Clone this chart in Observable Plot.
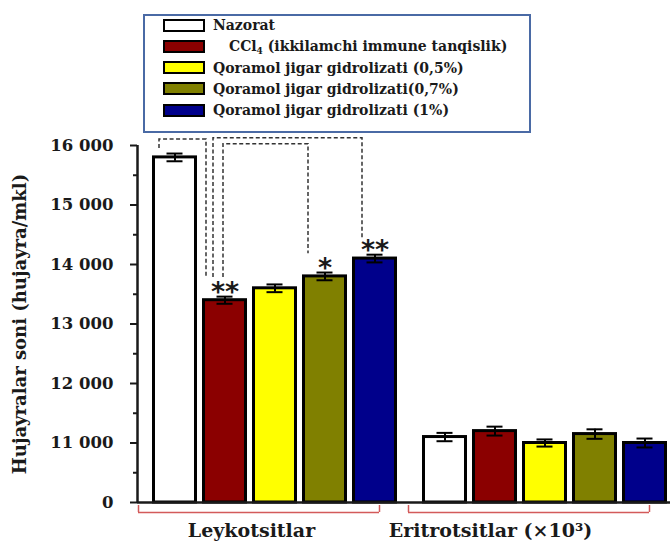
<!DOCTYPE html>
<html><head><meta charset="utf-8">
<script src="https://cdn.jsdelivr.net/npm/d3@7"></script>
<script src="https://cdn.jsdelivr.net/npm/@observablehq/plot@0.6"></script>
<style>
body{margin:0;background:#fff;}
#wrap{position:relative;width:670px;height:542px;overflow:hidden;}
#legend{position:absolute;left:143px;top:14px;width:388px;height:119px;box-sizing:border-box;border:2px solid #4a6aa5;background:#fff;font-family:"DejaVu Serif";font-weight:bold;font-size:14px;color:#1a1a1a;}
.row{position:absolute;left:18px;height:14px;display:flex;align-items:center;white-space:nowrap;}
.sw{width:38px;height:9px;border:2px solid #000;margin-right:8px;flex:none;}
.row sub{font-size:9px;vertical-align:-3px;line-height:0;}
</style></head><body><div id="wrap"><div id="chart"></div><div id="legend"></div></div>
<script>
const groups = ["Leykotsitlar", "Eritrotsitlar (×10³)"];
const series = ["Nazorat", "CCl4", "0,5%", "0,7%", "1%"];
const seriesLabels = ["Nazorat", "CCl<sub>4</sub> (ikkilamchi immune tanqislik)", "Qoramol jigar gidrolizati (0,5%)", "Qoramol jigar gidrolizati(0,7%)", "Qoramol jigar gidrolizati (1%)"];
const colors = ["#ffffff", "#8b0000", "#ffff00", "#808000", "#00008b"];
const leykValues = [15800, 13400, 13600, 13800, 14100];
const leykErrors = [65, 60, 65, 65, 65];
const eritValues = [11100, 11200, 11000, 11150, 11000];
const eritErrors = [70, 75, 60, 80, 75];
const yTicks = [10000, 11000, 12000, 13000, 14000, 15000, 16000];
const yTickLabels = ["0", "11 000", "12 000", "13 000", "14 000", "15 000", "16 000"];
const minorTicks = [10500, 11500, 12500, 13500, 14500, 15500];
const yTitle = "Hujayralar soni (hujayra/mkl)";
const stars = [
  {group: groups[0], series: "CCl4", text: "**"},
  {group: groups[0], series: "0,7%", text: "*"},
  {group: groups[0], series: "1%", text: "**"}
];
const brackets = [
  {from: "Nazorat", fromY: 15950, top: 16100, to: "CCl4", toY: 13780},
  {from: "CCl4", fromY: 13780, top: 16120, to: "1%", toY: 14450},
  {from: "CCl4", fromY: 13780, top: 16020, to: "0,7%", toY: 14180}
];
const bracketOffsets = [[-15.5, -18.5], [-11.5, -12.5], [-1.5, -16.5]];

const data = [];
groups.forEach((g, gi) => series.forEach((s, si) => data.push({
  group: g, series: s,
  value: gi === 0 ? leykValues[si] : eritValues[si],
  err: gi === 0 ? leykErrors[si] : eritErrors[si]
})));
const topOf = (g, s) => { const d = data.find(d => d.group === g && d.series === s); return d.value + d.err; };

const ink = "#1a1a1a";
const red = "#d35a5a";

const plot = Plot.plot({
  width: 670, height: 542,
  marginLeft: 137, marginRight: 3, marginTop: 145, marginBottom: 40,
  style: {fontFamily: "DejaVu Serif", fontWeight: "bold", color: ink, background: "transparent", overflow: "visible"},
  fx: {domain: groups, paddingInner: 10 / 270, paddingOuter: 0, axis: null, label: null},
  x: {domain: series, paddingInner: 0.1, paddingOuter: 0.15, align: 1, axis: null},
  y: {domain: [yTicks[0], yTicks[yTicks.length - 1]], axis: null},
  color: {domain: series, range: colors},
  marks: [
    Plot.barY(data, {fx: "group", x: "series", y1: yTicks[0], y2: "value", fill: "series", stroke: "#000", strokeWidth: 3, insetLeft: 1.5, insetRight: 1.5}),
    Plot.ruleX(data, {fx: "group", x: "series", y1: d => d.value - d.err, y2: d => d.value + d.err, stroke: "#000", strokeWidth: 2}),
    Plot.tickY(data, {fx: "group", x: "series", y: d => d.value + d.err, stroke: "#000", strokeWidth: 2, insetLeft: 14.5, insetRight: 14.5}),
    Plot.tickY(data, {fx: "group", x: "series", y: d => d.value - d.err, stroke: "#000", strokeWidth: 2, insetLeft: 14.5, insetRight: 14.5}),
    Plot.axisY({ticks: minorTicks, tickSize: 4, tickFormat: () => "", label: null, strokeWidth: 2, stroke: ink}),
    Plot.axisY({ticks: yTicks, tickSize: 7, tickPadding: 17, tickFormat: d => yTickLabels[yTicks.indexOf(d)], label: null, strokeWidth: 2, stroke: ink, fontSize: 16.5, fill: ink}),
    Plot.ruleX([series[0]], {fx: () => groups[0], x: d => d, dx: -37.5, stroke: ink, strokeWidth: 2.5}),
    Plot.ruleY([yTicks[0]], {stroke: ink, strokeWidth: 2.5, insetRight: -10}),
    Plot.ruleY([yTicks[0]], {dy: 10, insetLeft: 1, insetRight: 18, stroke: red, strokeWidth: 1.5}),
    Plot.ruleX(groups, {fx: d => d, x: () => series[0], dx: -36.5, insetTop: 360, insetBottom: -10, stroke: red, strokeWidth: 1.5}),
    Plot.ruleX(groups, {fx: d => d, x: () => series[series.length - 1], dx: 4.5, insetTop: 360, insetBottom: -10, stroke: red, strokeWidth: 1.5}),
    Plot.text([groups[0]], {fx: d => d, text: d => d, frameAnchor: "bottom", lineAnchor: "top", dy: 20.5, dx: -16, fontSize: 19, fill: ink}),
    Plot.text([groups[1]], {fx: d => d, text: d => d, frameAnchor: "bottom", lineAnchor: "top", dy: 20.5, dx: -47, fontSize: 19, fill: ink}),
    Plot.text([yTitle], {fx: () => groups[0], text: d => d, frameAnchor: "left", textAnchor: "middle", rotate: -90, dx: -117, fontSize: 18, fill: ink}),
    Plot.text(stars, {fx: "group", x: "series", y: d => topOf(d.group, d.series), text: "text", dy: -4, fontFamily: "DejaVu Sans", fontWeight: "bold", fontSize: 27, fill: ink})
  ]
});

// significance brackets, positioned through the plot's own scales
const fxS = plot.scale("fx"), xS = plot.scale("x"), yS = plot.scale("y");
const cx = (g, s) => fxS.apply(g) + xS.apply(s) - xS.range[0] + xS.bandwidth / 2;
const bg = d3.select(plot).append("g").attr("fill", "none").attr("stroke", "#333").attr("stroke-width", 1.5).attr("stroke-dasharray", "4,2.5");
brackets.forEach((b, i) => {
  const [oL, oR] = bracketOffsets[i];
  const x1 = cx(groups[0], b.from) + oL, x2 = cx(groups[0], b.to) + oR;
  bg.append("path").attr("d", `M${x1},${yS.apply(b.fromY)}V${yS.apply(b.top)}H${x2}V${yS.apply(b.toY)}`);
});

document.getElementById("chart").appendChild(plot);

const legend = d3.select("#legend");
series.forEach((s, i) => {
  const row = legend.append("div").attr("class", "row").style("top", (2 + i * 21.25) + "px");
  row.append("div").attr("class", "sw").style("background", colors[i]);
  row.append("span").style("padding-left", i === 1 ? "16px" : "0px").html(seriesLabels[i]);
});
</script></body></html>
